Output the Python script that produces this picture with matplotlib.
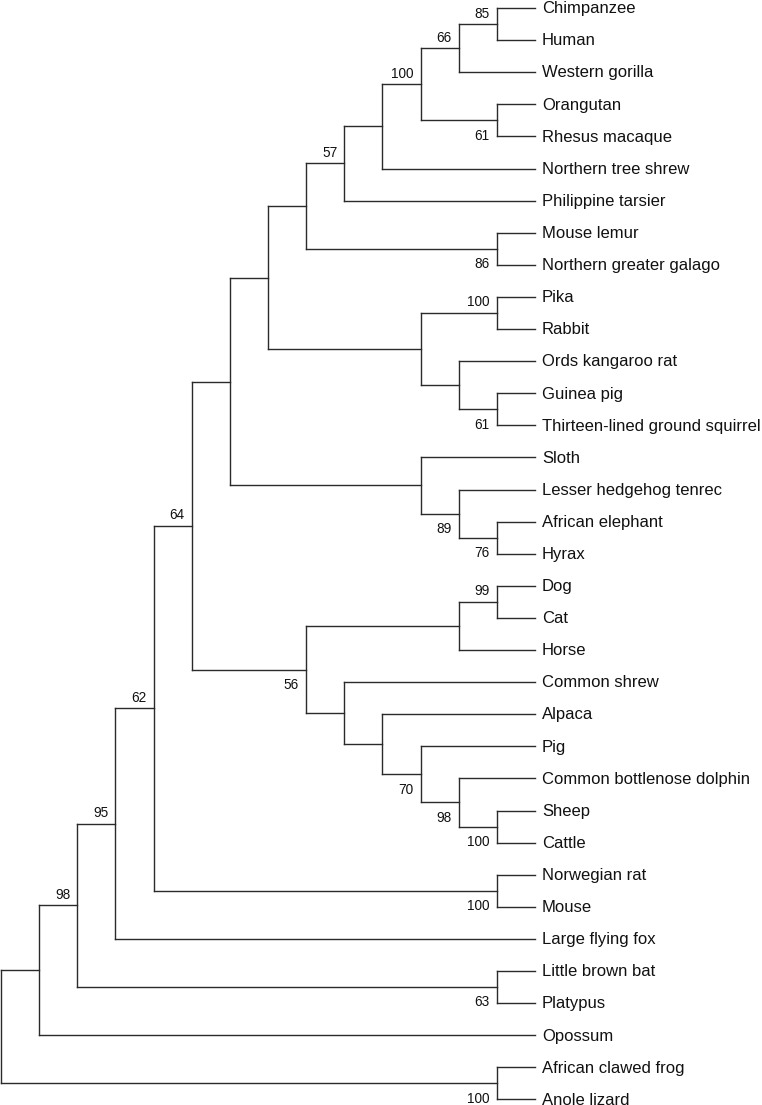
import matplotlib
matplotlib.use('Agg')
import matplotlib.pyplot as plt

plt.rcParams['font.family'] = ['Liberation Sans', 'DejaVu Sans']

# ---------------- data ----------------
# Tree topology in Newick form; internal node labels are bootstrap support values.
newick = ("((((((((((((((Chimpanzee,Human)85,Western gorilla)66,(Orangutan,Rhesus macaque)61)100,"
          "Northern tree shrew),Philippine tarsier)57,(Mouse lemur,Northern greater galago)86),"
          "((Pika,Rabbit)100,(Ords kangaroo rat,(Guinea pig,Thirteen-lined ground squirrel)61))),"
          "(Sloth,(Lesser hedgehog tenrec,(African elephant,Hyrax)76)89)),"
          "(((Dog,Cat)99,Horse),(Common shrew,(Alpaca,(Pig,(Common bottlenose dolphin,"
          "(Sheep,Cattle)100)98)70)))56)64,(Norwegian rat,Mouse)100)62,Large flying fox)95,"
          "(Little brown bat,Platypus)63)98,Opossum),(African clawed frog,Anole lizard)100);")


# ---------------- parse ----------------
def parse(s):
    pos = 0

    def read_label():
        nonlocal pos
        start = pos
        while pos < len(s) and s[pos] not in ',();':
            pos += 1
        return s[start:pos].strip()

    def node():
        nonlocal pos
        if s[pos] == '(':
            pos += 1
            children = [node()]
            while s[pos] == ',':
                pos += 1
                children.append(node())
            pos += 1  # ')'
            return {'children': children, 'label': read_label()}
        return {'children': [], 'label': read_label()}

    return node()


root = parse(newick)

# ---------------- layout (cladogram) ----------------
leaf_counter = [0]


def height(n):
    if not n['children']:
        n['h'] = 0
    else:
        n['h'] = 1 + max(height(c) for c in n['children'])
    return n['h']


H = height(root)


def layout(n):
    n['x'] = H - n['h']
    if not n['children']:
        n['y'] = leaf_counter[0]
        leaf_counter[0] += 1
    else:
        for c in n['children']:
            layout(c)
        n['y'] = (n['children'][0]['y'] + n['children'][-1]['y']) / 2.0


layout(root)

# ---------------- figure ----------------
W, Hpx, DPI = 762, 1105, 100
fig = plt.figure(figsize=(W / DPI, Hpx / DPI), dpi=DPI)
ax = fig.add_axes([0, 0, 1, 1])
px_x, x0 = 38.14, 1.0      # pixels per level, pixel of root
px_y, y0 = 32.1, 8.0       # pixels per leaf, pixel of first leaf
ax.set_xlim(-x0 / px_x, (W - x0) / px_x)
ax.set_ylim((Hpx - y0) / px_y, -y0 / px_y)
ax.axis('off')

LC = '#2a2a2a'
LW = 1.0
PT = 72.0 / DPI  # points per pixel


def draw(n):
    if n['children']:
        ys = [c['y'] for c in n['children']]
        ax.plot([n['x'], n['x']], [min(ys), max(ys)], color=LC, lw=LW,
                solid_capstyle='projecting')
        for i, c in enumerate(n['children']):
            ax.plot([n['x'], c['x']], [c['y'], c['y']], color=LC, lw=LW,
                    solid_capstyle='projecting')
            if c['children'] and c['label']:
                if i == 0:
                    off = (-7 * PT, 6.5 * PT)
                else:
                    off = (-7 * PT, -19.3 * PT)
                ax.annotate(c['label'], (c['x'], c['y']), xytext=off,
                            textcoords='offset points', ha='right', va='baseline',
                            fontsize=9.8, color='#111111')
            draw(c)
    else:
        ax.annotate(n['label'], (n['x'], n['y']), xytext=(7 * PT, -5.3 * PT),
                    textcoords='offset points', ha='left', va='baseline',
                    fontsize=12, color='#111111')


draw(root)

fig.savefig('out.png', dpi=DPI)
